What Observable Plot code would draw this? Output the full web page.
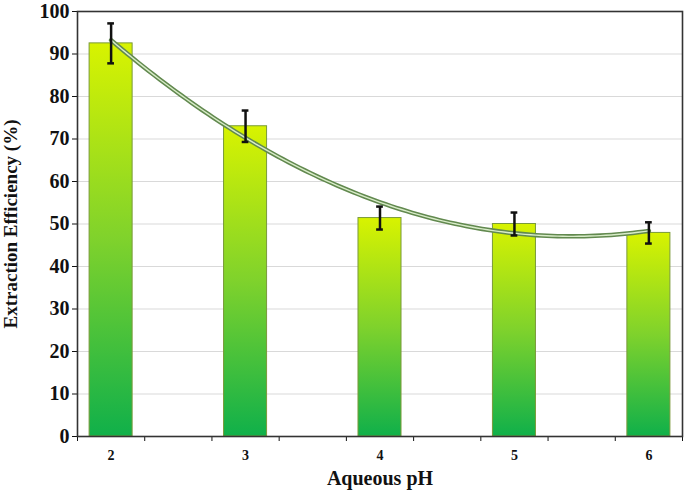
<!DOCTYPE html>
<html>
<head>
<meta charset="utf-8">
<script src="https://cdn.jsdelivr.net/npm/d3@7"></script>
<script src="https://cdn.jsdelivr.net/npm/@observablehq/plot@0.6"></script>
<style>
  body { margin: 0; background: #fff; }
  #chart svg { font-family: "Liberation Serif", "Times New Roman", serif; font-weight: bold; }
</style>
</head>
<body>
<div id="chart"></div>
<script>
// Data
const ph = [2, 3, 4, 5, 6];
const efficiency = [92.5, 73.0, 51.4, 50.0, 47.9];
const errors = [4.7, 3.7, 2.7, 2.7, 2.5];
const yTicks = [0, 10, 20, 30, 40, 50, 60, 70, 80, 90, 100];
const xTickMarks = [1.75, 2.25, 2.75, 3.25, 3.75, 4.25, 4.75, 5.25, 5.75, 6.25];

const rows = ph.map((p, i) => ({ph: p, eff: efficiency[i], err: errors[i]}));

// Second-order polynomial least-squares trendline fitted to the data
function quadFit(xs, ys) {
  const n = xs.length;
  let S = [0,0,0,0,0], T = [0,0,0];
  for (let i = 0; i < n; i++) {
    const x = xs[i], y = ys[i];
    for (let k = 0; k < 5; k++) S[k] += Math.pow(x, k);
    for (let k = 0; k < 3; k++) T[k] += y * Math.pow(x, k);
  }
  const A = [[S[0],S[1],S[2],T[0]],[S[1],S[2],S[3],T[1]],[S[2],S[3],S[4],T[2]]];
  for (let c = 0; c < 3; c++) {
    for (let r = c + 1; r < 3; r++) {
      const f = A[r][c] / A[c][c];
      for (let k = c; k < 4; k++) A[r][k] -= f * A[c][k];
    }
  }
  const b = [0,0,0];
  for (let r = 2; r >= 0; r--) {
    let s = A[r][3];
    for (let k = r + 1; k < 3; k++) s -= A[r][k] * b[k];
    b[r] = s / A[r][r];
  }
  return x => b[0] + b[1] * x + b[2] * x * x;
}
const fit = quadFit(ph, efficiency);
const trend = d3.range(0, 101).map(i => {
  const x = ph[0] + (ph[ph.length - 1] - ph[0]) * i / 100;
  return {x, y: fit(x)};
});

const halfW = 0.16;
const capW = 0.025;

const chart = Plot.plot({
  width: 685,
  height: 500,
  marginLeft: 77,
  marginRight: 3,
  marginTop: 11,
  marginBottom: 64,
  style: {fontFamily: '"Liberation Serif", "Times New Roman", serif', fontWeight: "bold", color: "#111", background: "#fff"},
  x: {domain: [1.75, 6.25]},
  y: {domain: [0, 100]},
  marks: [
    Plot.gridY(yTicks, {stroke: "#d9d9d9", strokeOpacity: 1}),
    Plot.rectY(rows, {
      x1: d => d.ph - halfW, x2: d => d.ph + halfW, y1: 0, y2: "eff",
      fill: "url(#barGrad)", stroke: "#7a9a3a", strokeWidth: 1
    }),
    Plot.line(trend, {x: "x", y: "y", stroke: "#62894f", strokeWidth: 4.5}),
    Plot.line(trend, {x: "x", y: "y", stroke: "#d8ecc8", strokeWidth: 1.4}),
    Plot.ruleX(rows, {x: "ph", y1: d => d.eff - d.err, y2: d => d.eff + d.err, stroke: "#111", strokeWidth: 2.5}),
    Plot.ruleY(rows, {y: d => d.eff + d.err, x1: d => d.ph - capW, x2: d => d.ph + capW, stroke: "#111", strokeWidth: 2.5}),
    Plot.ruleY(rows, {y: d => d.eff - d.err, x1: d => d.ph - capW, x2: d => d.ph + capW, stroke: "#111", strokeWidth: 2.5}),
    Plot.axisY({ticks: yTicks, tickSize: 5, tickPadding: 3, fontSize: 20, label: "Extraction Efficiency (%)", labelAnchor: "center", labelArrow: "none", labelOffset: 74}),
    Plot.axisX({ticks: xTickMarks, tickSize: 5, tickFormat: () => "", label: null}),
    Plot.axisX({ticks: ph, tickSize: 0, tickPadding: 14, fontSize: 14, tickFormat: d3.format("d"), label: "Aqueous pH", labelAnchor: "center", labelArrow: "none", labelOffset: 48}),
    Plot.frame({stroke: "#333", strokeWidth: 1.6})
  ]
});

// gradient definition for the bars
const ns = "http://www.w3.org/2000/svg";
const defs = document.createElementNS(ns, "defs");
defs.innerHTML = `<linearGradient id="barGrad" x1="0" y1="0" x2="0" y2="1">
  <stop offset="0%" stop-color="#d8f300"/>
  <stop offset="50%" stop-color="#7fd22c"/>
  <stop offset="100%" stop-color="#10b04a"/>
</linearGradient>`;
chart.insertBefore(defs, chart.firstChild);

// Axis label sizes
chart.querySelectorAll('g[aria-label="y-axis label"] text').forEach(t => t.setAttribute("font-size", 19));
chart.querySelectorAll('g[aria-label="x-axis label"] text').forEach(t => t.setAttribute("font-size", 20));

document.getElementById("chart").appendChild(chart);
</script>
</body>
</html>
